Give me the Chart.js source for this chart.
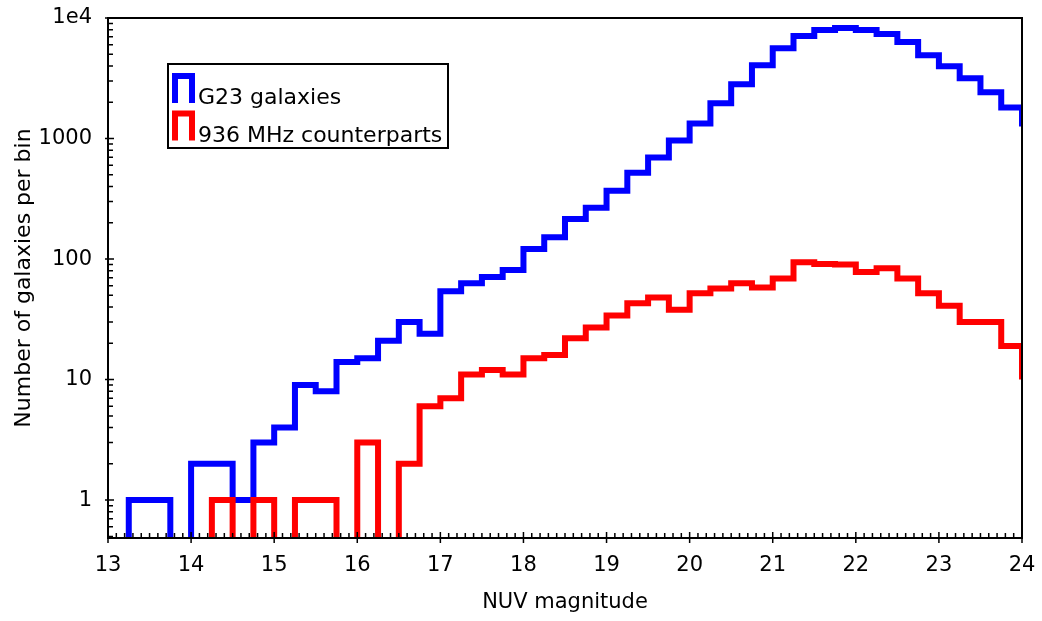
<!DOCTYPE html>
<html lang="en">
<head>
<meta charset="UTF-8">
<title>NUV magnitude histogram</title>
<script src="https://cdn.jsdelivr.net/npm/chart.js@4.4.1/dist/chart.umd.min.js"></script>
<style>
* { margin: 0; padding: 0; box-sizing: border-box; }
body { background: #fff; width: 1042px; height: 621px; overflow: hidden; }
</style>
</head>
<body>
<canvas id="nuvChart" width="1042" height="621"></canvas>
<script>
// left edge of each 0.25 mag bin
var binStarts = [13.0, 13.25, 13.5, 13.75, 14.0, 14.25, 14.5, 14.75, 15.0, 15.25, 15.5, 15.75,
    16.0, 16.25, 16.5, 16.75, 17.0, 17.25, 17.5, 17.75, 18.0, 18.25, 18.5, 18.75,
    19.0, 19.25, 19.5, 19.75, 20.0, 20.25, 20.5, 20.75, 21.0, 21.25, 21.5, 21.75,
    22.0, 22.25, 22.5, 22.75, 23.0, 23.25, 23.5, 23.75, 24.0];
var binWidth = 0.25;

var g23Counts = [0, 1, 1, 0, 2, 2, 1, 3, 4, 9, 8, 14,
    15, 21, 30, 24, 54, 63, 71, 81, 121, 152, 215, 266,
    369, 521, 695, 962, 1334, 1958, 2818, 4055, 5623, 7080, 7943, 8254,
    7943, 7356, 6310, 4920, 3981, 3162, 2416, 1812, 1259];
var radioCounts = [0, 0, 0, 0, 0, 1, 0, 1, 0, 1, 1, 0,
    3, 0, 2, 6, 7, 11, 12, 11, 15, 16, 22, 27,
    34, 43, 48, 38, 52, 57, 63, 58, 69, 94, 91, 90,
    78, 84, 69, 52, 41, 30, 30, 19, 10];

var xTickValues = [13, 14, 15, 16, 17, 18, 19, 20, 21, 22, 23, 24];
var yTickValues = [1, 10, 100, 1000, 10000];
var yTickLabels = ['1', '10', '100', '1000', '1e4'];

var yMin = 0.485, yMax = 10000;
var emptyBin = 0.1; // empty bins fall below the axis on a log scale

function histPoints(counts) {
    var pts = binStarts.map(function(x, i) {
        return { x: x, y: counts[i] > 0 ? counts[i] : emptyBin };
    });
    var last = counts[counts.length - 1];
    pts.push({ x: binStarts[binStarts.length - 1] + binWidth, y: last > 0 ? last : emptyBin });
    return pts;
}

// frame plus inward minor ticks, the way the original plot has them
var frameTicks = {
    id: 'frameTicks',
    afterDatasetsDraw: function(chart) {
        var ctx = chart.ctx, a = chart.chartArea;
        var xs = chart.scales.x, ys = chart.scales.y;
        ctx.save();
        ctx.strokeStyle = '#000';
        ctx.lineWidth = 1.5;
        ctx.beginPath();
        for (var k = Math.round(xs.min * 10); k <= Math.round(xs.max * 10); k++) {
            var px = xs.getPixelForValue(k / 10);
            if (k % 10 === 0) {
                ctx.moveTo(px, a.bottom + 5);
                ctx.lineTo(px, a.bottom - 6);
            } else {
                ctx.moveTo(px, a.bottom);
                ctx.lineTo(px, a.bottom - 5);
            }
        }
        for (var e = -1; e <= 4; e++) {
            for (var m = 1; m <= 9; m++) {
                var v = m * Math.pow(10, e);
                if (v < ys.min || v > ys.max) continue;
                var py = ys.getPixelForValue(v);
                if (m === 1) {
                    ctx.moveTo(a.left - 3, py);
                    ctx.lineTo(a.left + 6, py);
                } else {
                    ctx.moveTo(a.left, py);
                    ctx.lineTo(a.left + 5, py);
                }
            }
        }
        ctx.stroke();
        ctx.lineWidth = 2;
        ctx.strokeRect(a.left, a.top, a.right - a.left, a.bottom - a.top);
        ctx.restore();
    }
};

// boxed legend with histogram-step icons
var boxLegend = {
    id: 'boxLegend',
    afterDraw: function(chart) {
        var ctx = chart.ctx, a = chart.chartArea;
        var x0 = a.left + 60, y0 = a.top + 46;
        ctx.save();
        ctx.fillStyle = '#fff';
        ctx.fillRect(x0, y0, 280, 84);
        ctx.strokeStyle = '#000';
        ctx.lineWidth = 2;
        ctx.strokeRect(x0, y0, 280, 84);
        ctx.font = '22px "DejaVu Sans", sans-serif';
        ctx.textBaseline = 'alphabetic';
        var rows = [0, 1];
        rows.forEach(function(i) {
            var ds = chart.data.datasets[i];
            var top = y0 + 12 + i * 37.5;
            ctx.strokeStyle = ds.borderColor;
            ctx.lineWidth = 6;
            ctx.lineJoin = 'miter';
            ctx.beginPath();
            ctx.moveTo(x0 + 7, top + 27);
            ctx.lineTo(x0 + 7, top);
            ctx.lineTo(x0 + 24, top);
            ctx.lineTo(x0 + 24, top + 27);
            ctx.stroke();
            ctx.fillStyle = '#000';
            ctx.fillText(ds.label, x0 + 30, top + 28);
        });
        ctx.restore();
    }
};

Chart.defaults.font.family = '"DejaVu Sans", sans-serif';
Chart.defaults.color = '#000';

var nuvCtx = document.getElementById('nuvChart').getContext('2d');
var nuvChart = new Chart(nuvCtx, {
    type: 'line',
    data: {
        datasets: [{
            label: 'G23 galaxies',
            data: histPoints(g23Counts),
            borderColor: '#0000ff',
            borderWidth: 6,
            stepped: 'before',
            pointRadius: 0,
            fill: false,
            clip: 0,
            borderJoinStyle: 'miter',
            order: 1
        }, {
            label: '936 MHz counterparts',
            data: histPoints(radioCounts),
            borderColor: '#ff0000',
            borderWidth: 6,
            stepped: 'before',
            pointRadius: 0,
            fill: false,
            clip: 0,
            borderJoinStyle: 'miter',
            order: 0
        }]
    },
    options: {
        responsive: false,
        animation: false,
        devicePixelRatio: 1,
        layout: { padding: { top: 18, right: 20, bottom: 0, left: 0 } },
        plugins: {
            legend: { display: false },
            tooltip: { enabled: false }
        },
        scales: {
            x: {
                type: 'linear',
                min: 13,
                max: 24,
                grid: { display: false },
                border: { display: false },
                afterBuildTicks: function(s) {
                    s.ticks = xTickValues.map(function(v) { return { value: v }; });
                },
                afterFit: function(s) {
                    s.height = 83;
                    s.paddingLeft = 0;
                    s.paddingRight = 0;
                },
                ticks: {
                    font: { size: 21 },
                    padding: 7,
                    maxRotation: 0,
                    autoSkip: false
                },
                title: {
                    display: true,
                    text: 'NUV magnitude',
                    font: { size: 21, lineHeight: 1 },
                    padding: { top: 0, bottom: 8 }
                }
            },
            y: {
                type: 'logarithmic',
                min: yMin,
                max: yMax,
                grid: { display: false },
                border: { display: false },
                afterBuildTicks: function(s) {
                    s.ticks = yTickValues.map(function(v) { return { value: v }; });
                },
                afterFit: function(s) {
                    s.width = 108;
                    s.paddingTop = 0;
                    s.paddingBottom = 0;
                },
                ticks: {
                    font: { size: 21 },
                    padding: 8,
                    callback: function(value, index) { return yTickLabels[index]; }
                },
                title: {
                    display: true,
                    text: 'Number of galaxies per bin',
                    font: { size: 22, lineHeight: 1 },
                    padding: { top: 13, bottom: 0 }
                }
            }
        }
    },
    plugins: [frameTicks, boxLegend]
});
</script>
</body>
</html>
